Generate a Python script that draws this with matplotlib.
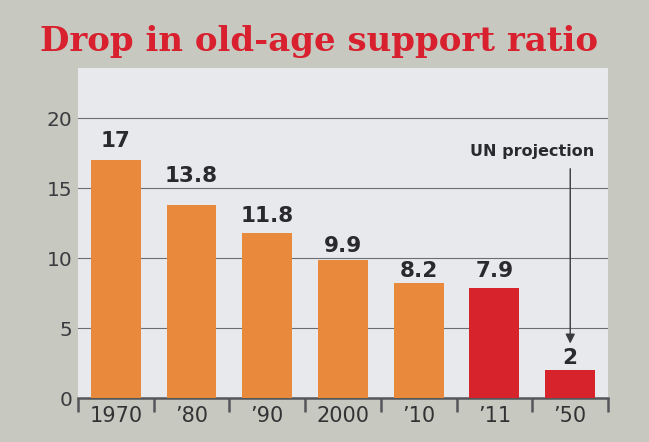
import numpy as np
import matplotlib.pyplot as plt

# data
years = ['1970', '\u201980', '\u201990', '2000', '\u201910', '\u201911', '\u201950']
ratio = [17, 13.8, 11.8, 9.9, 8.2, 7.9, 2]
bar_labels = ['17', '13.8', '11.8', '9.9', '8.2', '7.9', '2']
is_red = [False, False, False, False, False, True, True]
y_ticks = [0, 5, 10, 15, 20]

orange = '#e8893b'
red = '#d7232c'
dark = '#2a2a2e'

# how far each value label sits above its bar, in points
# (13.8 is pushed above the 15 gridline in the original)
label_lift = [14, 21, 12, 10, 9, 12, 9]

fig = plt.figure(figsize=(6.49, 4.42), dpi=100)
fig.patch.set_facecolor('#c7c9c0')
ax = fig.add_axes([0.12, 0.0995, 0.817, 0.7465])
ax.set_facecolor('#e7e9ec')

x = np.arange(len(years))
colors = [red if r else orange for r in is_red]
ax.bar(x, ratio, width=0.66, color=colors, zorder=3)

for i in range(len(x)):
    ax.annotate(bar_labels[i], (x[i], ratio[i]), xytext=(0, label_lift[i]),
                textcoords='offset points', ha='center', va='center',
                fontsize=15.5, fontweight='bold', color=dark, zorder=4)

# UN projection note with arrow down to 2050
ax.text(5.5, 17.6, 'UN projection', ha='center', va='center',
        fontsize=11.5, fontweight='bold', color=dark)
ax.annotate('', xy=(6.0, 3.7), xytext=(6.0, 16.6),
            arrowprops=dict(arrowstyle='-|>', color='#3a3a3e', lw=1.0,
                            mutation_scale=14))

ax.set_xlim(-0.5, 6.5)
ax.set_ylim(0, 23.6)

# ticks at the category borders, labels in between
ax.set_xticks(np.arange(-0.5, 7, 1))
ax.set_xticklabels([])
ax.set_xticks(x, minor=True)
ax.set_xticklabels(years, minor=True)
ax.tick_params(axis='x', which='major', length=10, width=1.8, color='#55565a',
               direction='out')
ax.tick_params(axis='x', which='minor', length=0, pad=6, labelsize=15,
               labelcolor='#333336')

ax.set_yticks(y_ticks)
ax.tick_params(axis='y', length=0, pad=4, labelsize=14.5, labelcolor='#3c3c40')
for v in y_ticks[1:]:
    ax.axhline(v, color='#6c6e74', lw=0.8, zorder=1)

for s in ['top', 'right', 'left']:
    ax.spines[s].set_visible(False)
ax.spines['bottom'].set_color('#55565a')
ax.spines['bottom'].set_linewidth(1.8)

fig.text(0.062, 1 - 42 / 442, 'Drop in old-age support ratio', ha='left',
         va='center', fontsize=24.5, fontweight='bold', color='#d8202e',
         family='DejaVu Serif')

plt.savefig('out.png', dpi=100, facecolor=fig.get_facecolor())
